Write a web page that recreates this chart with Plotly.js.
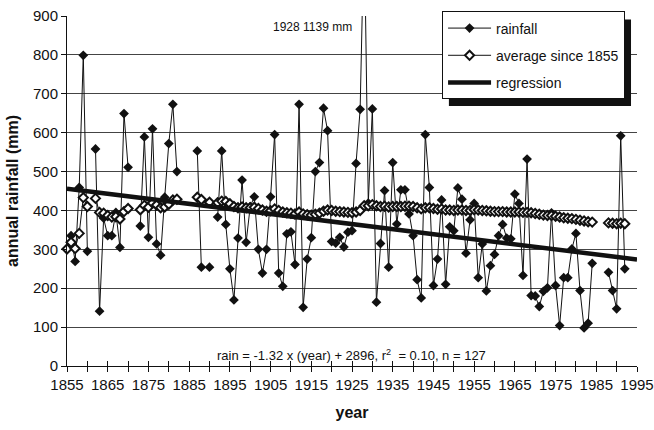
<!DOCTYPE html>
<html><head><meta charset="utf-8">
<script src="https://cdn.plot.ly/plotly-3.0.1.min.js"></script>
<style>html,body{margin:0;padding:0;background:#fff}#chart{width:654px;height:430px}</style>
</head><body><div id="chart"></div>
<script>
// years 1855..1992 (gap years carry null)
const years = [1855,1856,1857,1858,1859,1860,1861,1862,1863,1864,1865,1866,1867,1868,1869,
1870,1871,1872,1873,1874,1875,1876,1877,1878,1879,1880,1881,1882,1883,1884,1885,1886,1887,1888,1889,
1890,1891,1892,1893,1894,1895,1896,1897,1898,1899,1900,1901,1902,1903,1904,1905,1906,1907,1908,1909,
1910,1911,1912,1913,1914,1915,1916,1917,1918,1919,1920,1921,1922,1923,1924,1925,1926,1927,1928,1929,
1930,1931,1932,1933,1934,1935,1936,1937,1938,1939,1940,1941,1942,1943,1944,1945,1946,1947,1948,1949,
1950,1951,1952,1953,1954,1955,1956,1957,1958,1959,1960,1961,1962,1963,1964,1965,1966,1967,1968,1969,
1970,1971,1972,1973,1974,1975,1976,1977,1978,1979,1980,1981,1982,1983,1984,1985,1986,1987,1988,1989,
1990,1991,1992];

// annual rainfall (mm)
const rainfall = [301,335,269,459,799,295,null,558,141,380,335,335,395,305,649,
511,null,null,360,589,331,610,314,285,434,572,673,500,null,null,null,null,553,254,null,
254,null,383,553,364,250,170,329,478,318,410,435,300,239,300,435,595,239,205,340,
345,261,673,151,275,330,500,523,663,605,320,316,331,306,344,348,521,660,1139,419,
661,164,315,451,254,523,365,453,453,391,335,222,175,595,459,207,275,427,210,358,
348,458,429,290,376,418,227,314,193,258,287,335,364,329,327,442,418,233,532,181,
180,153,192,201,394,207,104,227,227,301,341,194,98,110,264,null,null,null,241,194,
147,592,250];

// average since 1855 (mm)
const average = [301,318,302,341,433,410,null,431,395,393,387,383,384,378,397,
405,null,null,402,413,408,419,414,407,409,416,427,429,null,null,null,null,434,428,null,
421,null,420,424,423,417,410,407,409,407,407,408,405,401,398,399,404,400,396,394,
393,391,396,391,389,388,390,393,398,401,400,398,397,396,395,394,396,400,412,412,
415,412,410,411,409,410,410,410,411,411,410,407,404,407,407,405,403,404,401,401,
400,401,401,400,400,402,401,400,399,398,397,397,397,396,396,396,396,395,395,394,
392,390,388,387,387,385,383,381,380,379,377,375,373,371,370,null,null,null,368,367,
366,367,366];

// regression line end points
const regYears = [1855, 1995];
const regValues = [456, 274];

const FONT = 'Liberation Sans, Arial, sans-serif';

const traces = [
  {x: years, y: rainfall, name: 'rainfall', type: 'scatter', mode: 'lines+markers',
   line: {color: '#111', width: 1}, marker: {symbol: 'diamond', size: 7.5, color: '#111'},
   connectgaps: false, cliponaxis: false, legendgroup: 'a'},
  {x: years, y: average, name: 'average since 1855', type: 'scatter', mode: 'lines+markers',
   line: {color: '#111', width: 1}, marker: {symbol: 'diamond', size: 7, color: '#fff', line: {color: '#111', width: 2}},
   connectgaps: false, cliponaxis: false, legendgroup: 'b'},
  {x: regYears, y: regValues, name: 'regression', type: 'scatter', mode: 'lines',
   line: {color: '#111', width: 4.5}, legendgroup: 'c'},
  {x: [1855], y: [null], xaxis: 'x2', showlegend: false, hoverinfo: 'skip', mode: 'markers'}
];

const layout = {
  width: 654, height: 430,
  margin: {l: 67, r: 17, t: 15, b: 64},
  paper_bgcolor: '#fff', plot_bgcolor: '#fff',
  font: {family: FONT, color: '#111', size: 15},
  showlegend: true,
  legend: {x: 0.658, y: 1.01, xanchor: 'left', yanchor: 'top', bgcolor: '#fff',
    bordercolor: '#111', borderwidth: 1, font: {size: 14, family: FONT},
    traceorder: 'grouped', tracegroupgap: 6, itemwidth: 43},
  xaxis: {range: [1855, 1995], tickmode: 'linear', tick0: 1855, dtick: 10,
    ticks: 'outside', ticklen: 5, tickcolor: '#111', showline: true, linecolor: '#111', linewidth: 1,
    showgrid: false, zeroline: false, tickfont: {size: 15}, ticklabeloverflow: 'allow',
    minor: {tickmode: 'linear', tick0: 1855, dtick: 5, ticks: 'outside', ticklen: 5, tickcolor: '#111', showgrid: false},
    title: {text: 'year', font: {size: 16, weight: 'bold'}, standoff: 14}},
  xaxis2: {range: [1855, 1995], overlaying: 'x', anchor: 'y', side: 'bottom',
    tickmode: 'linear', tick0: 1855, dtick: 5, ticks: 'inside', ticklen: 5, tickcolor: '#111',
    showticklabels: false, showgrid: false, showline: false, zeroline: false},
  yaxis: {range: [0, 900], tickmode: 'linear', tick0: 0, dtick: 100,
    ticks: 'outside', ticklen: 5, tickcolor: '#111', showline: true, linecolor: '#111', linewidth: 1,
    showgrid: true, gridcolor: '#444', gridwidth: 1, zeroline: false, tickfont: {size: 15},
    title: {text: 'annual rainfall (mm)', font: {size: 16, weight: 'bold'}, standoff: 10}},
  shapes: [
    {type: 'rect', xref: 'paper', yref: 'paper', x0: 0.67, x1: 0.9895, y0: 0.743, y1: 0.99,
     fillcolor: '#111', line: {width: 0}, layer: 'above'}
  ],
  annotations: [
    {x: 1925.5, y: 872, xref: 'x', yref: 'y', xanchor: 'right', yanchor: 'middle', showarrow: false,
     text: '1928 1139 mm', font: {size: 12, family: FONT}},
    {x: 1924.8, y: 29, xref: 'x', yref: 'y', xanchor: 'center', yanchor: 'middle', showarrow: false,
     text: 'rain = -1.32 x (year) + 2896, r<sup>2</sup>  = 0.10, n = 127', font: {size: 13, family: FONT}}
  ]
};

Plotly.newPlot('chart', traces, layout, {displayModeBar: false, staticPlot: true});
</script>
</body></html>
